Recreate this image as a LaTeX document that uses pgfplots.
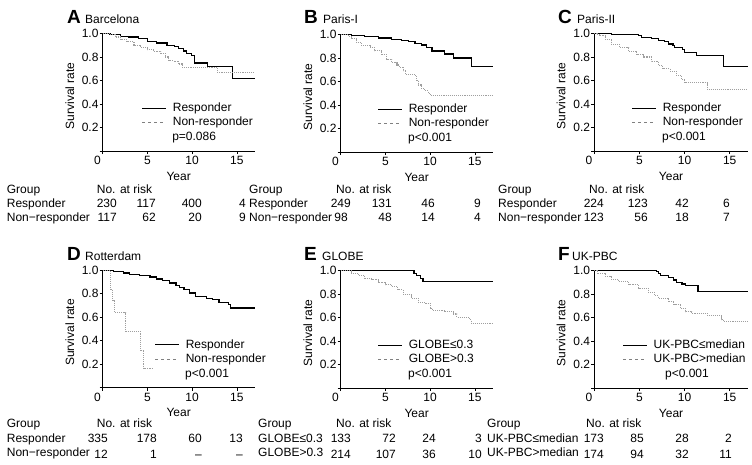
\documentclass[border=0pt]{standalone}
\usepackage{fontspec}
\setmainfont{Liberation Sans}
\usepackage{pgfplots}
\pgfplotsset{compat=1.18}
\pgfplotsset{
  km/.style={
    scale only axis, width=152pt, height=117.5pt,
    xmin=0, xmax=17, ymin=0, ymax=1,
    axis lines=left, axis line style={-, line width=0.6pt},
    xtick={0,5,10,15}, xticklabels={\makebox[0pt][r]{0\hspace{2pt}},5,10,15},
    ytick={0,0.2,0.4,0.6,0.8,1}, yticklabels={,0.2,0.4,0.6,0.8,1.0},
    tick align=outside, major tick length=3pt, tick style={black, line width=0.6pt},
    xlabel={Year}, ylabel={Survival rate},
    xlabel style={at={(axis description cs:0.5,-0.213)}, anchor=center},
    ylabel style={at={(axis description cs:-0.217,0.47)}, anchor=center},
    xticklabel style={inner sep=1pt, yshift=-1pt},
    yticklabel style={inner sep=1pt},
    clip=false,
    legend cell align=left,
    legend style={draw=none, fill=none, inner sep=0pt, outer sep=0pt, row sep=3.3pt,
      column sep=6pt, anchor=north west,
      nodes={inner sep=0pt, text height=8.6pt, text depth=2.6pt, anchor=base west}},
  },
  resp/.style={black, line width=1.3pt, const plot, forget plot},
  nonr/.style={gray!75, densely dotted, line width=1.1pt, const plot, forget plot},
  lr/.style={legend image code/.code={\draw[black, line width=0.8pt] (0pt,3.5pt) -- (24pt,3.5pt);}},
  ln/.style={legend image code/.code={\draw[gray, dashed, line width=0.8pt] (0pt,3.5pt) -- (24pt,3.5pt);}},
}
\tikzset{pval/.style={anchor=base west, inner sep=0pt}}
\begin{document}
\fontsize{12}{14.4}\selectfont
\begin{tikzpicture}[x=1pt,y=1pt]
\useasboundingbox (0pt,0pt) rectangle (752pt,464pt);
% ---------- A
\begin{axis}[km, at={(102.7pt,313pt)}, anchor=origin, legend style={at={(axis cs:4.4,0.41)}}]
\addplot[resp] coordinates {(0,1) (0.8,0.994) (2,0.977) (2.9,0.969) (4,0.958) (5,0.93) (6,0.92) (7.2,0.90) (8,0.89) (8.5,0.87) (9,0.85) (9.4,0.83) (9.9,0.81) (10.3,0.75) (11.7,0.72) (14.5,0.62) (17,0.62)};
\addplot[nonr] coordinates {(0,1) (0.8,0.99) (1.4,0.97) (2,0.95) (2.7,0.93) (3.5,0.90) (4.2,0.88) (5,0.86) (5.7,0.85) (6.5,0.83) (7,0.80) (7.4,0.77) (8,0.76) (8.5,0.74) (8.9,0.71) (12.8,0.67) (17,0.67)};
\addlegendimage{lr}\addlegendentry{Responder}
\addlegendimage{ln}\addlegendentry{Non-responder}
\node[pval] at (axis cs:7.76,0.09) {p=0.086};
\end{axis}
% ---------- B
\begin{axis}[km, at={(340.7pt,312pt)}, anchor=origin, legend style={at={(axis cs:4.17,0.41)}}]
\addplot[resp] coordinates {(0,1) (1.2,0.994) (2.7,0.98) (4.2,0.97) (5.7,0.96) (6.8,0.95) (7.6,0.94) (8.3,0.925) (9,0.91) (9.6,0.89) (10.2,0.86) (11.6,0.835) (12.6,0.80) (14.6,0.73) (17,0.73)};
\addplot[nonr] coordinates {(0,1) (0.9,0.98) (1.2,0.966) (1.8,0.93) (2.3,0.905) (3.3,0.89) (3.8,0.86) (4.6,0.83) (5.1,0.79) (5.7,0.76) (6.3,0.74) (6.6,0.72) (7,0.69) (7.2,0.66) (8.3,0.65) (8.5,0.61) (8.7,0.57) (9,0.54) (9.4,0.52) (9.8,0.50) (10,0.48) (17,0.48)};
\addlegendimage{lr}\addlegendentry{Responder}
\addlegendimage{ln}\addlegendentry{Non-responder}
\node[pval] at (axis cs:7.53,0.09) {p<0.001};
\end{axis}
% ---------- C
\begin{axis}[km, at={(594.3pt,313pt)}, anchor=origin, width=153.5pt, legend style={at={(axis cs:4.17,0.41)}}]
\addplot[resp] coordinates {(0,1) (1.9,0.994) (3.4,0.99) (4.9,0.98) (5.2,0.966) (6.3,0.955) (7.1,0.94) (7.8,0.93) (8.2,0.91) (8.7,0.895) (8.9,0.88) (9.8,0.866) (10,0.84) (11.3,0.81) (14.3,0.72) (17,0.72)};
\addplot[nonr] coordinates {(0,1) (0.3,0.99) (0.6,0.98) (1.2,0.946) (1.9,0.91) (2.8,0.88) (3.8,0.85) (4.7,0.82) (5.4,0.80) (6.3,0.76) (7.1,0.73) (7.6,0.70) (8.4,0.68) (9.1,0.64) (9.7,0.605) (10,0.58) (12.5,0.525) (17,0.525)};
\addlegendimage{lr}\addlegendentry{Responder}
\addlegendimage{ln}\addlegendentry{Non-responder}
\node[pval] at (axis cs:7.49,0.09) {p<0.001};
\end{axis}
% ---------- D
\begin{axis}[km, at={(102.7pt,76.3pt)}, anchor=origin, legend style={at={(axis cs:5.85,0.41)}}]
\addplot[resp] coordinates {(0,1) (0.8,0.995) (1.2,0.99) (2.3,0.977) (3,0.966) (4.1,0.955) (5.3,0.943) (6,0.926) (6.7,0.91) (7.5,0.89) (8.2,0.87) (8.6,0.855) (9.1,0.835) (9.7,0.806) (10.4,0.778) (11.6,0.758) (12.3,0.75) (13,0.726) (14.1,0.707) (14.3,0.678) (17,0.678)};
\addplot[nonr] coordinates {(0,1) (0.9,0.835) (1.1,0.74) (1.3,0.64) (2.6,0.48) (4.2,0.32) (4.6,0.165) (5.6,0.165)};
\addlegendimage{lr}\addlegendentry{Responder}
\addlegendimage{ln}\addlegendentry{Non-responder}
\node[pval] at (axis cs:9.21,0.09) {p<0.001};
\end{axis}
% ---------- E
\begin{axis}[km, at={(340.7pt,76pt)}, anchor=origin, legend style={at={(axis cs:4.17,0.41)}}]
\addplot[resp] coordinates {(0,1) (8.2,0.977) (8.5,0.958) (8.9,0.93) (9.2,0.904) (17,0.904)};
\addplot[nonr] coordinates {(0,1) (1.2,0.977) (2,0.96) (2.7,0.935) (3.5,0.92) (4.2,0.90) (5,0.88) (5.7,0.864) (6.4,0.836) (7,0.793) (7.9,0.765) (8.7,0.73) (9.4,0.72) (10,0.68) (10.3,0.66) (11.6,0.65) (12.6,0.63) (13,0.60) (14.4,0.58) (14.6,0.55) (17,0.55)};
\addlegendimage{lr}\addlegendentry{GLOBE≤0.3}
\addlegendimage{ln}\addlegendentry{GLOBE>0.3}
\node[pval] at (axis cs:7.53,0.09) {p<0.001};
\end{axis}
% ---------- F
\begin{axis}[km, at={(594.3pt,76pt)}, anchor=origin, width=153.5pt, legend style={at={(axis cs:3.17,0.41)}}]
\addplot[resp] coordinates {(0,1) (6.9,0.99) (7.1,0.977) (7.3,0.958) (8.2,0.94) (8.8,0.92) (9.1,0.90) (9.7,0.884) (10.1,0.87) (11.5,0.82) (17,0.82)};
\addplot[nonr] coordinates {(0,1) (0.4,0.977) (1.2,0.95) (1.9,0.926) (2.7,0.906) (3.8,0.878) (4.9,0.85) (6,0.813) (6.7,0.785) (7.1,0.765) (8.2,0.737) (8.8,0.708) (9.5,0.68) (10.1,0.65) (10.8,0.637) (12.5,0.615) (14.1,0.58) (14.3,0.567) (17,0.567)};
\addlegendimage{lr}\addlegendentry{UK-PBC≤median}
\addlegendimage{ln}\addlegendentry{UK-PBC>median}
\node[pval] at (axis cs:7.82,0.09) {p<0.001};
\end{axis}
% ---------- panel titles
\begin{scope}[every node/.style={anchor=base west, inner sep=0pt}]
\node at (67pt,440pt) {\fontsize{19}{20}\selectfont\bfseries A};
\node at (85pt,440pt) {Barcelona};
\node at (304pt,440pt) {\fontsize{19}{20}\selectfont\bfseries B};
\node at (323pt,440pt) {Paris-I};
\node at (558pt,440pt) {\fontsize{19}{20}\selectfont\bfseries C};
\node at (577pt,440pt) {Paris-II};
\node at (67pt,204pt) {\fontsize{19}{20}\selectfont\bfseries D};
\node at (85pt,204pt) {Rotterdam};
\node at (304pt,204pt) {\fontsize{19}{20}\selectfont\bfseries E};
\node at (322pt,204pt) {GLOBE};
\node at (558pt,204pt) {\fontsize{19}{20}\selectfont\bfseries F};
\node at (572pt,204pt) {UK-PBC};
% ---------- risk tables, top row
\node at (6.7pt,270pt) {Group};   \node at (96.7pt,270pt) {No. at risk};
\node at (6.7pt,256pt) {Responder};
\node at (6.7pt,242pt) {Non−responder};
\node at (249pt,270pt) {Group};   \node at (336pt,270pt) {No. at risk};
\node at (249pt,256pt) {Responder};
\node at (249pt,242pt) {Non−responder};
\node at (498pt,270pt) {Group};   \node at (589pt,270pt) {No. at risk};
\node at (498pt,256pt) {Responder};
\node at (498pt,242pt) {Non−responder};
% bottom row
\node at (6.7pt,36.5pt) {Group};   \node at (96.7pt,36.5pt) {No. at risk};
\node at (6.7pt,22pt) {Responder};
\node at (6.7pt,7.5pt) {Non−responder};
\node at (258pt,36.5pt) {Group};   \node at (336pt,36.5pt) {No. at risk};
\node at (258pt,22pt) {GLOBE≤0.3};
\node at (258pt,7.5pt) {GLOBE>0.3};
\node at (487pt,36.5pt) {Group};   \node at (586pt,36.5pt) {No. at risk};
\node at (487pt,22pt) {UK-PBC≤median};
\node at (487pt,7.5pt) {UK-PBC>median};
\end{scope}
\begin{scope}[every node/.style={anchor=base east, inner sep=0pt}]
% A
\node at (117pt,256pt) {230}; \node at (156pt,256pt) {117}; \node at (202pt,256pt) {400}; \node at (246pt,256pt) {4};
\node at (117pt,242pt) {117}; \node at (156pt,242pt) {62};  \node at (202pt,242pt) {20};  \node at (246pt,242pt) {9};
% B
\node at (351pt,256pt) {249}; \node at (392pt,256pt) {131}; \node at (435pt,256pt) {46}; \node at (481pt,256pt) {9};
\node at (348pt,242pt) {98};  \node at (392pt,242pt) {48};  \node at (435pt,242pt) {14}; \node at (481pt,242pt) {4};
% C
\node at (604pt,256pt) {224}; \node at (648pt,256pt) {123}; \node at (689pt,256pt) {42}; \node at (730pt,256pt) {6};
\node at (604pt,242pt) {123}; \node at (648pt,242pt) {56};  \node at (689pt,242pt) {18}; \node at (730pt,242pt) {7};
% D
\node at (108pt,22pt) {335}; \node at (157pt,22pt) {178}; \node at (202pt,22pt) {60}; \node at (243pt,22pt) {13};
\node at (108pt,6pt) {12};   \node at (157pt,6pt) {1};   \node at (202pt,6pt) {–};  \node at (243pt,6pt) {–};
% E
\node at (351pt,22pt) {133}; \node at (396pt,22pt) {72};  \node at (436pt,22pt) {24}; \node at (482pt,22pt) {3};
\node at (351pt,6pt) {214};  \node at (396pt,6pt) {107};  \node at (436pt,6pt) {36}; \node at (482pt,6pt) {10};
% F
\node at (604pt,22pt) {173}; \node at (644pt,22pt) {85};  \node at (689pt,22pt) {28}; \node at (732pt,22pt) {2};
\node at (604pt,6pt) {174};  \node at (644pt,6pt) {94};   \node at (689pt,6pt) {32}; \node at (732pt,6pt) {11};
\end{scope}
\end{tikzpicture}
\end{document}
